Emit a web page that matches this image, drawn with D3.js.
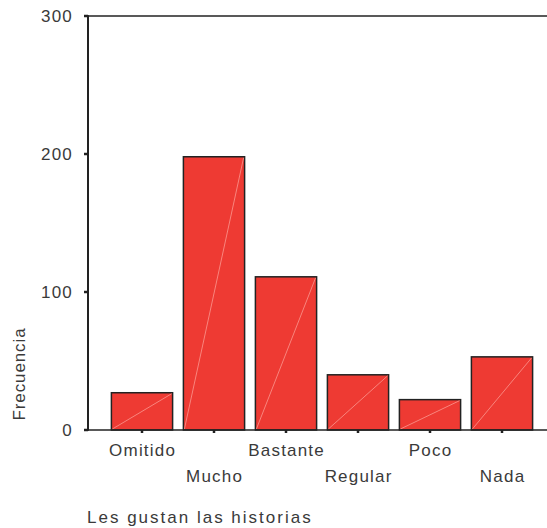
<!DOCTYPE html>
<html><head><meta charset="utf-8">
<script src="https://cdn.jsdelivr.net/npm/d3@7"></script>
<style>
body{margin:0;background:#fff;}
svg{display:block;font-family:"Liberation Sans",Arial,sans-serif;}
</style></head>
<body><svg id="c" width="547" height="528"></svg>
<script>
const categories = ["Omitido","Mucho","Bastante","Regular","Poco","Nada"];
const values = [27, 198, 111, 40, 22, 53];
const yTicks = [0, 100, 200, 300];
const yLabel = "Frecuencia";
const xTitle = "Les gustan las historias";

const svg = d3.select("#c");
const x = d3.scaleBand().domain(categories).range([106, 538]).paddingInner(0.15).paddingOuter(0.075);
const y = d3.scaleLinear().domain([0, 300]).range([430, 16]);

// frame top line
svg.append("line").attr("x1", 88).attr("x2", 547).attr("y1", y(300)).attr("y2", y(300))
  .attr("stroke", "#222").attr("stroke-width", 1.5);

// bars
const g = svg.append("g");
categories.forEach((c, i) => {
  const x0 = x(c), w = x.bandwidth(), y0 = y(values[i]), y1 = y(0);
  g.append("rect").attr("x", x0).attr("y", y0).attr("width", w).attr("height", y1 - y0)
    .attr("fill", "#EE3A33").attr("stroke", "#222").attr("stroke-width", 1.5);
  g.append("line").attr("x1", x0 + 1).attr("y1", y1 - 1).attr("x2", x0 + w - 1).attr("y2", y0 + 1)
    .attr("stroke", "#ffb0a8").attr("stroke-width", 0.8).attr("opacity", 0.8);
});

// x axis line
svg.append("line").attr("x1", 84).attr("x2", 547).attr("y1", y(0)).attr("y2", y(0))
  .attr("stroke", "#222").attr("stroke-width", 1.5);
// y axis line
svg.append("line").attr("x1", 88).attr("x2", 88).attr("y1", y(300) - 0.75).attr("y2", y(0) + 0.75)
  .attr("stroke", "#222").attr("stroke-width", 2);

// y ticks
yTicks.forEach(t => {
  svg.append("line").attr("x1", 84).attr("x2", 88).attr("y1", y(t)).attr("y2", y(t))
    .attr("stroke", "#222").attr("stroke-width", 2.5);
  svg.append("text").attr("x", 73).attr("y", y(t)).attr("dy", "0.36em")
    .attr("text-anchor", "end").attr("font-size", 17).attr("letter-spacing", 1.2)
    .attr("fill", "#3a3a3a").text(t);
});

// x ticks and labels
categories.forEach((c, i) => {
  const cx = x(c) + x.bandwidth() / 2;
  svg.append("line").attr("x1", cx).attr("x2", cx).attr("y1", y(0)).attr("y2", y(0) + 3)
    .attr("stroke", "#222").attr("stroke-width", 2.5);
  svg.append("text").attr("x", cx + 0.6).attr("y", i % 2 === 0 ? 456 : 482)
    .attr("text-anchor", "middle").attr("font-size", 17).attr("letter-spacing", 1.2)
    .attr("fill", "#3a3a3a").text(c);
});

// y label
svg.append("text").attr("transform", "translate(24.5,374) rotate(-90)")
  .attr("text-anchor", "middle").attr("font-size", 17).attr("letter-spacing", 0.9)
  .attr("fill", "#3a3a3a").text(yLabel);

// x title
svg.append("text").attr("x", 87).attr("y", 523)
  .attr("font-size", 17).attr("letter-spacing", 2)
  .attr("fill", "#3a3a3a").text(xTitle);
</script></body></html>
